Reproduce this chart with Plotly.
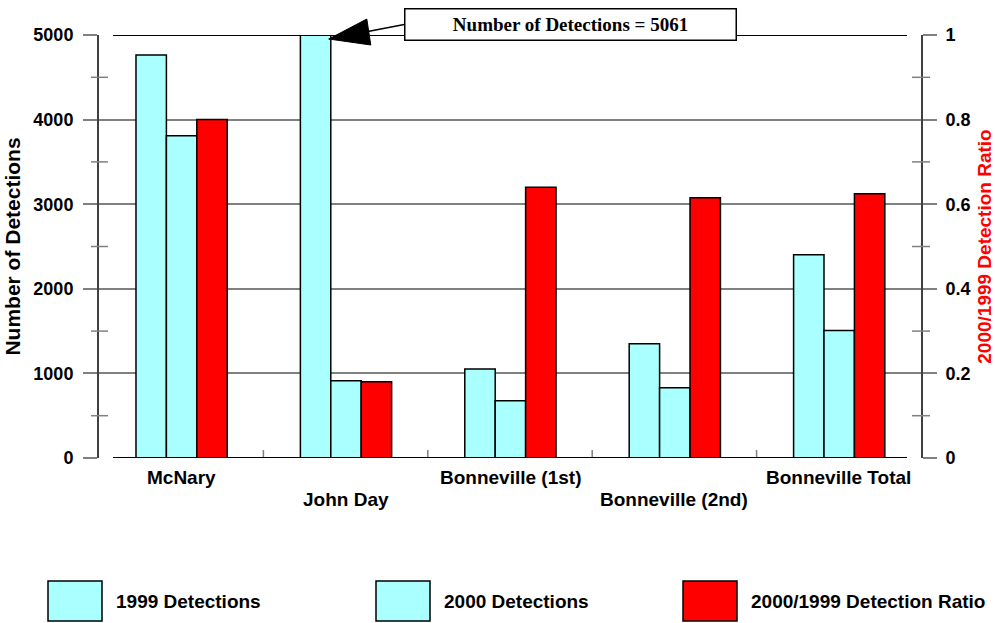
import plotly.graph_objects as go

# ---- data -------------------------------------------------------------
categories = ["McNary", "John Day", "Bonneville (1st)", "Bonneville (2nd)", "Bonneville Total"]
det_1999 = [4765, 5061, 1052, 1351, 2403]
det_2000 = [3810, 914, 677, 831, 1508]
det_ratio = [0.80, 0.18, 0.64, 0.615, 0.625]

series_names = ["1999 Detections", "2000 Detections", "2000/1999 Detection Ratio"]
left_ticks = [0, 1000, 2000, 3000, 4000, 5000]
right_ticks = [0, 0.2, 0.4, 0.6, 0.8, 1]
right_tick_text = ["0", "0.2", "0.4", "0.6", "0.8", "1"]

# ---- styling ----------------------------------------------------------
W, H = 995, 623
L, R, T, B = 99, 74, 35, 165
PW, PH = W - L - R, H - T - B
Y_MAX, Y2_MAX = 5000, 1.0

CYAN = "#AAFFFF"
RED = "#FF0000"
GREY = "#808080"
FONT = "Liberation Sans"

BAR_W = 0.185
OFFSETS = [-0.275, -0.09, 0.095]


def px_x(px):
    return (px - L) / PW


def px_y(py):
    return (H - B - py) / PH


pos = list(range(len(categories)))
line = dict(color="black", width=1.5)

fig = go.Figure()
fig.add_trace(go.Bar(x=pos, y=det_1999, name=series_names[0], marker=dict(color=CYAN, line=line),
                     width=BAR_W, offset=OFFSETS[0], yaxis="y"))
fig.add_trace(go.Bar(x=pos, y=det_2000, name=series_names[1], marker=dict(color=CYAN, line=line),
                     width=BAR_W, offset=OFFSETS[1], yaxis="y"))
fig.add_trace(go.Bar(x=pos, y=det_ratio, name=series_names[2], marker=dict(color=RED, line=line),
                     width=BAR_W, offset=OFFSETS[2], yaxis="y2"))

shapes = []
# crossing minor ticks on both value axes
for v in range(500, Y_MAX, 1000):
    shapes.append(dict(type="line", xref="paper", xsizemode="pixel", xanchor=0, x0=-8, x1=9,
                       yref="y", y0=v, y1=v, line=dict(color=GREY, width=1.5)))
for i in range(5):
    v = 0.1 + 0.2 * i
    shapes.append(dict(type="line", xref="paper", xsizemode="pixel", xanchor=1, x0=-9, x1=9,
                       yref="y2", y0=v, y1=v, line=dict(color=GREY, width=1.5)))
# category boundary ticks
for b in range(len(categories) + 1):
    edge = b in (0, len(categories))
    shapes.append(dict(type="line", xref="x", x0=b - 0.5, x1=b - 0.5,
                       yref="y", ysizemode="pixel", yanchor=0, y0=-14 if edge else -8, y1=0 if edge else 8,
                       line=dict(color="#404040" if edge else GREY, width=2 if edge else 1.5)))
# frame lines at the bottom and top of the value range
for v in (0, Y_MAX):
    shapes.append(dict(type="line", xref="paper", x0=px_x(113), x1=px_x(907),
                       yref="y", y0=v, y1=v, line=dict(color="black", width=2)))

# pointer from the callout to the clipped John Day bar (paper y so it is not clipped)
tip_x = pos[1] + OFFSETS[0] + BAR_W
tip_y = min(det_1999[1], Y_MAX) / Y_MAX
shapes.append(dict(type="line", xref="x", xsizemode="pixel", xanchor=tip_x, x0=-2, x1=76,
                   yref="paper", ysizemode="pixel", yanchor=tip_y, y0=-4, y1=11,
                   line=dict(color="black", width=1.5)))
shapes.append(dict(type="path", xref="x", xsizemode="pixel", xanchor=tip_x,
                   yref="paper", ysizemode="pixel", yanchor=tip_y,
                   path="M-2,-4 L36,16 L40,-10 Z", fillcolor="black", line=dict(color="black", width=1)))

# legend swatches
legend_x = [48, 376, 683]
legend_colors = [CYAN, CYAN, RED]
annotations = []
for lx, col, name in zip(legend_x, legend_colors, series_names):
    shapes.append(dict(type="rect", xref="paper", yref="paper",
                       x0=px_x(lx), x1=px_x(lx + 54), y0=px_y(621), y1=px_y(581),
                       fillcolor=col, line=dict(color="black", width=1.5)))
    annotations.append(dict(xref="paper", yref="paper", x=px_x(lx + 66), y=px_y(601),
                            xanchor="left", yanchor="middle", showarrow=False, text=name,
                            font=dict(family=FONT, size=19, weight="bold", color="black")))

# staggered category labels
for i, cat in enumerate(categories):
    py = 477 if i % 2 == 0 else 500
    annotations.append(dict(xref="x", yref="paper", x=pos[i], y=px_y(py), xanchor="center",
                            yanchor="middle", showarrow=False, text=cat,
                            font=dict(family=FONT, size=19, weight="bold", color="black")))

# callout box
annotations.append(dict(xref="paper", yref="paper", x=px_x(570), y=px_y(24), xanchor="center",
                        yanchor="middle", showarrow=False,
                        text=f"Number of Detections = {det_1999[1]}",
                        font=dict(family="Liberation Serif", size=19, weight="bold", color="black"),
                        bgcolor="white", bordercolor="black", borderwidth=1.5, borderpad=2,
                        width=326, height=26))

fig.update_layout(
    width=W, height=H,
    margin=dict(l=L, r=R, t=T, b=B, autoexpand=False),
    plot_bgcolor="white", paper_bgcolor="white",
    barmode="overlay",
    showlegend=False,
    xaxis=dict(range=[-0.5, len(categories) - 0.5], showticklabels=False, ticks="",
               showgrid=False, zeroline=False, showline=False, automargin=False),
    yaxis=dict(range=[0, Y_MAX], tickvals=left_ticks, ticks="outside", ticklen=14,
               tickcolor=GREY, tickwidth=2, showgrid=True, gridcolor=GREY, gridwidth=2,
               zeroline=False, showline=True, linecolor="#404040", linewidth=2,
               ticklabelstandoff=6, automargin=False,
               tickfont=dict(family=FONT, size=18, weight="bold", color="black"),
               title=dict(text="Number of Detections", standoff=7,
                          font=dict(family=FONT, size=21, weight="bold", color="black"))),
    yaxis2=dict(range=[0, Y2_MAX], overlaying="y", side="right", tickvals=right_ticks,
                ticktext=right_tick_text, ticks="outside", ticklen=14, tickcolor=GREY,
                tickwidth=2, showgrid=False, zeroline=False, showline=True,
                linecolor="#404040", linewidth=2, ticklabelstandoff=5, automargin=False,
                tickfont=dict(family=FONT, size=18, weight="bold", color="black"),
                title=dict(text="2000/1999 Detection Ratio", standoff=18,
                           font=dict(family=FONT, size=19, weight="bold", color=RED))),
    shapes=shapes,
    annotations=annotations,
)

fig.write_html("out.html")
